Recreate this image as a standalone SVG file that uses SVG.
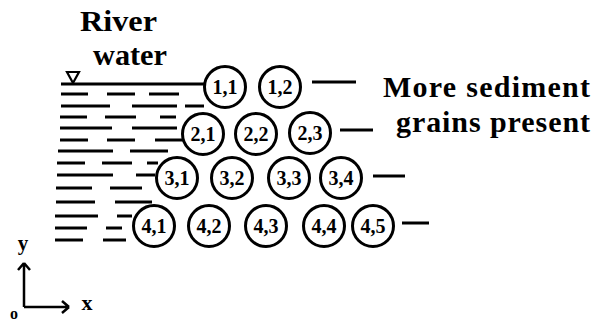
<svg xmlns="http://www.w3.org/2000/svg" width="602" height="322" viewBox="0 0 602 322">
  <style>
    .grain circle { fill: #fff; stroke: #000; stroke-width: 3; }
    .grain text { font-family: "Liberation Serif", "Times New Roman", serif; font-weight: bold; font-size: 20px; text-anchor: middle; fill: #000; }
    .lbl { font-family: "Liberation Serif", "Times New Roman", serif; font-weight: bold; fill: #000; }
    .water line, .tick line { stroke: #000; stroke-width: 3; }
    .axis { stroke: #000; stroke-width: 2.5; fill: none; }
  </style>
  <rect width="602" height="322" fill="#fff"/>

  <!-- river water: surface line, level symbol and dashed water body -->
  <g id="water" class="water">
    <line x1="61" y1="84" x2="204" y2="84"/>
    <polygon points="67,72 79,72 73,83" fill="none" stroke="#000" stroke-width="2.2"/>
    <line x1="61" y1="94" x2="88" y2="94"/><line x1="107" y1="94" x2="135" y2="94"/><line x1="149" y1="94" x2="179" y2="94"/>
    <line x1="61" y1="106" x2="110" y2="106"/><line x1="132" y1="106" x2="177" y2="106"/><line x1="185" y1="106" x2="204" y2="106"/>
    <line x1="60" y1="117" x2="87" y2="117"/><line x1="105" y1="117" x2="136" y2="117"/><line x1="160" y1="117" x2="176" y2="117"/>
    <line x1="60" y1="128" x2="112" y2="128"/><line x1="132" y1="128" x2="177" y2="128"/>
    <line x1="60" y1="140" x2="88" y2="140"/><line x1="107" y1="140" x2="135" y2="140"/><line x1="155" y1="140" x2="183" y2="140"/>
    <line x1="58" y1="151" x2="113" y2="151"/><line x1="130" y1="151" x2="168" y2="151"/>
    <line x1="57" y1="163" x2="85" y2="163"/><line x1="102" y1="163" x2="132" y2="163"/><line x1="147" y1="163" x2="158" y2="163"/>
    <line x1="57" y1="175" x2="113" y2="175"/><line x1="136" y1="175" x2="155" y2="175"/>
    <line x1="56" y1="188" x2="92" y2="188"/><line x1="110" y1="188" x2="142" y2="188"/>
    <line x1="56" y1="202" x2="95" y2="202"/><line x1="115" y1="202" x2="152" y2="202"/>
    <line x1="55" y1="216" x2="98" y2="216"/><line x1="117" y1="216" x2="132" y2="216"/>
    <line x1="55" y1="228" x2="87" y2="228"/><line x1="106" y1="228" x2="122" y2="228"/>
    <line x1="55" y1="240" x2="83" y2="240"/><line x1="103" y1="240" x2="126" y2="240"/>
  </g>

  <!-- short marks to the right of each row -->
  <g id="marks" class="tick">
    <line x1="312" y1="82" x2="356" y2="82"/>
    <line x1="340" y1="130" x2="373" y2="130"/>
    <line x1="373" y1="176" x2="405" y2="176"/>
    <line x1="402" y1="223" x2="429" y2="223"/>
  </g>

  <!-- sediment grains -->
  <g id="g11" class="grain"><circle cx="225" cy="87" r="20.5"/><text x="225" y="94">1,1</text></g>
  <g id="g12" class="grain"><circle cx="280" cy="87" r="20.5"/><text x="280" y="94">1,2</text></g>
  <g id="g21" class="grain"><circle cx="203" cy="134" r="20.5"/><text x="203" y="141">2,1</text></g>
  <g id="g22" class="grain"><circle cx="256" cy="134" r="20.5"/><text x="256" y="141">2,2</text></g>
  <g id="g23" class="grain"><circle cx="310" cy="133" r="20.5"/><text x="310" y="140">2,3</text></g>
  <g id="g31" class="grain"><circle cx="177" cy="178" r="20.5"/><text x="177" y="185">3,1</text></g>
  <g id="g32" class="grain"><circle cx="232" cy="178" r="20.5"/><text x="232" y="185">3,2</text></g>
  <g id="g33" class="grain"><circle cx="289" cy="178" r="20.5"/><text x="289" y="185">3,3</text></g>
  <g id="g34" class="grain"><circle cx="341" cy="178" r="20.5"/><text x="341" y="185">3,4</text></g>
  <g id="g41" class="grain"><circle cx="154" cy="226" r="20.5"/><text x="154" y="233">4,1</text></g>
  <g id="g42" class="grain"><circle cx="209" cy="226" r="20.5"/><text x="209" y="233">4,2</text></g>
  <g id="g43" class="grain"><circle cx="266" cy="226" r="20.5"/><text x="266" y="233">4,3</text></g>
  <g id="g44" class="grain"><circle cx="324" cy="226" r="20.5"/><text x="324" y="233">4,4</text></g>
  <g id="g45" class="grain"><circle cx="373" cy="226" r="20.5"/><text x="373" y="233">4,5</text></g>

  <!-- labels -->
  <text class="lbl" x="80" y="31" font-size="29" textLength="77" lengthAdjust="spacingAndGlyphs">River</text>
  <text class="lbl" x="93" y="65" font-size="29" textLength="74" lengthAdjust="spacingAndGlyphs">water</text>
  <text class="lbl" x="383" y="97" font-size="30" textLength="207" lengthAdjust="spacing">More sediment</text>
  <text class="lbl" x="396" y="132" font-size="30" textLength="194" lengthAdjust="spacing">grains present</text>

  <!-- coordinate axes -->
  <g id="axes">
    <path class="axis" d="M24,307 V263 M24,263 L18,270 M24,263 L30,270"/>
    <path class="axis" d="M24,307 H69 M69,307 L62,301 M69,307 L62,313"/>
    <text class="lbl" x="23" y="250" font-size="21" text-anchor="middle">y</text>
    <text class="lbl" x="87" y="310" font-size="22" font-weight="normal" text-anchor="middle">x</text>
    <text class="lbl" x="14" y="319" font-size="16" text-anchor="middle">o</text>
  </g>
</svg>
